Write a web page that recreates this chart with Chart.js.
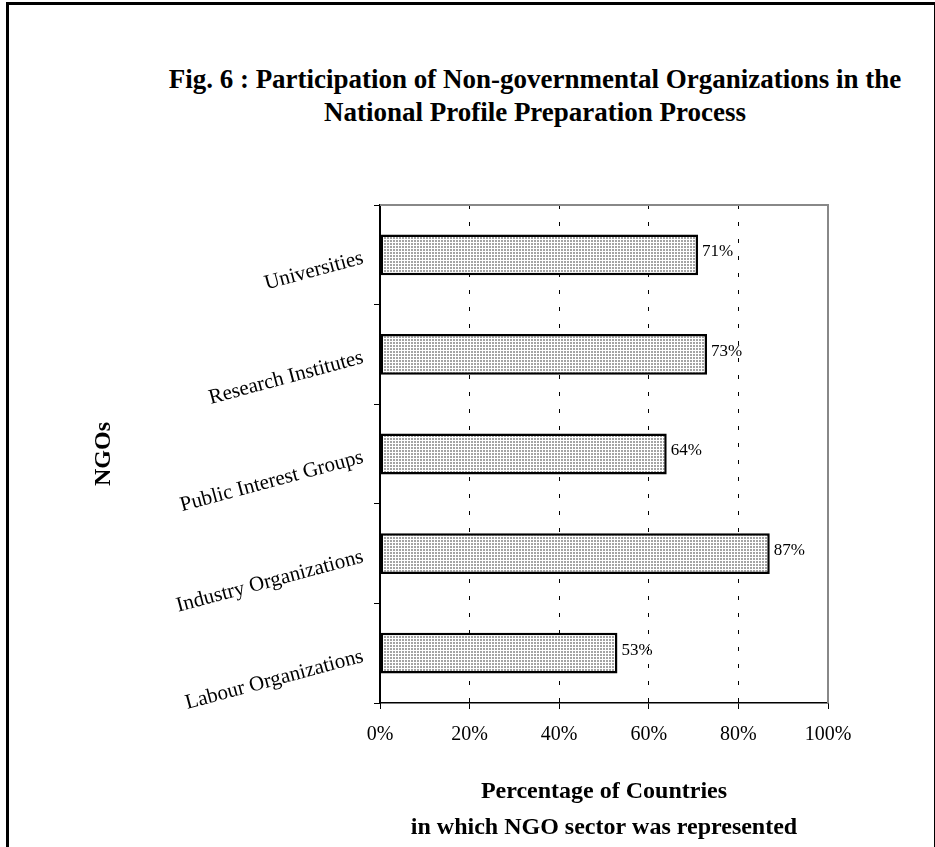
<!DOCTYPE html>
<html>
<head>
<meta charset="utf-8">
<title>Fig. 6 NGO participation</title>
<script src="https://cdn.jsdelivr.net/npm/chart.js@4"></script>
<style>
  body { margin: 0; background: #fff; overflow: hidden; }
  #wrap { position: relative; width: 935px; height: 847px; }
  #frame {
    position: absolute; left: 6px; top: 2px; width: 925px; height: 900px;
    border-top: 3px solid #000; border-left: 3px solid #000; border-right: 3px solid #000;
  }
  #title {
    position: absolute; left: 85px; top: 63px; width: 900px;
    text-align: center; font: bold 27px "Liberation Serif", "Times New Roman", serif;
    line-height: 33px; color: #000;
  }
  canvas { position: absolute; left: 0; top: 0; }
</style>
</head>
<body>
<div id="wrap">
  <div id="frame"></div>
  <div id="title">Fig. 6 : Participation of Non-governmental Organizations in the<br>National Profile Preparation Process</div>
  <canvas id="myChart" width="935" height="847"></canvas>
</div>
<script>
'use strict';

// data
const categories = ['Universities', 'Research Institutes', 'Public Interest Groups', 'Industry Organizations', 'Labour Organizations'];
const percentValues = [71, 73, 64, 87, 53];
const xTickLabels = ['0%', '20%', '40%', '60%', '80%', '100%'];
const xAxisTitle = ['Percentage of Countries', 'in which NGO sector was represented'];
const yAxisTitle = 'NGOs';

Chart.defaults.font.family = '"Liberation Serif", "Times New Roman", serif';
Chart.defaults.color = '#000';

// dotted fill like the original bars
function makeDotPattern(){
  let c = document.createElement('canvas');
  c.width = 3;
  c.height = 3;
  let p = c.getContext('2d');
  p.fillStyle = '#fff';
  p.fillRect(0, 0, 3, 3);
  p.fillStyle = '#a4a4a4';
  p.fillRect(0, 0, 2, 2);
  return p.createPattern(c, 'repeat');
}

// gray top + right edge of the plot area
const plotFrame = {
  id: 'plotFrame',
  beforeDatasetsDraw(chart){
    const {ctx, chartArea} = chart;
    ctx.save();
    ctx.strokeStyle = '#888';
    ctx.lineWidth = 2;
    ctx.beginPath();
    ctx.moveTo(chartArea.left, chartArea.top);
    ctx.lineTo(chartArea.right, chartArea.top);
    ctx.lineTo(chartArea.right, chartArea.bottom);
    ctx.stroke();
    ctx.restore();
  }
};

// value labels at the end of each bar
const valueLabels = {
  id: 'valueLabels',
  afterDatasetsDraw(chart){
    const ctx = chart.ctx;
    const meta = chart.getDatasetMeta(0);
    ctx.save();
    ctx.font = '17px "Liberation Serif", "Times New Roman", serif';
    ctx.fillStyle = '#000';
    ctx.textAlign = 'left';
    ctx.textBaseline = 'middle';
    meta.data.forEach(function(bar, i){
      ctx.fillText(percentValues[i] + '%', bar.x + 4, bar.y - 3);
    });
    ctx.restore();
  }
};

const ctx = document.getElementById('myChart');

new Chart(ctx, {
  type: 'bar',
  data: {
    labels: categories,
    datasets: [{
      data: percentValues,
      backgroundColor: makeDotPattern(),
      borderColor: '#000',
      borderWidth: 2.5,
      borderSkipped: false,
      categoryPercentage: 1,
      barPercentage: 0.41
    }]
  },
  options: {
    indexAxis: 'y',
    responsive: false,
    animation: false,
    devicePixelRatio: 1,
    layout: { padding: { top: 205, right: 107, bottom: 0, left: 0 } },
    plugins: {
      legend: { display: false },
      title: { display: false },
      tooltip: { enabled: false }
    },
    scales: {
      x: {
        type: 'linear',
        min: 0,
        max: 100,
        afterFit: function(scale){ scale.height = 144; },
        ticks: {
          stepSize: 20,
          padding: 14,
          font: { size: 20 },
          callback: function(value, index){ return xTickLabels[index]; }
        },
        grid: {
          color: function(c){ return (c.tick && (c.tick.value === 0 || c.tick.value === 100)) ? 'rgba(0,0,0,0)' : '#000'; },
          tickColor: '#000',
          tickLength: 6,
          lineWidth: 1
        },
        border: { color: '#000', width: 1.5, dash: [4, 13] },
        title: {
          display: true,
          text: xAxisTitle,
          font: { size: 24, weight: 'bold', lineHeight: 1.5 },
          padding: { top: 0, bottom: 1 }
        }
      },
      y: {
        afterFit: function(scale){ scale.width = 380; },
        ticks: {
          padding: 11,
          minRotation: 15,
          maxRotation: 15,
          labelOffset: 3,
          font: { size: 21 }
        },
        grid: {
          offset: true,
          drawOnChartArea: false,
          color: '#000',
          tickLength: 6
        },
        border: { color: '#000', width: 2 },
        title: {
          display: true,
          text: yAxisTitle,
          font: { size: 24, weight: 'bold', lineHeight: 1.2 },
          padding: { top: 89, bottom: 0 }
        }
      }
    }
  },
  plugins: [plotFrame, valueLabels]
});
</script>
</body>
</html>
